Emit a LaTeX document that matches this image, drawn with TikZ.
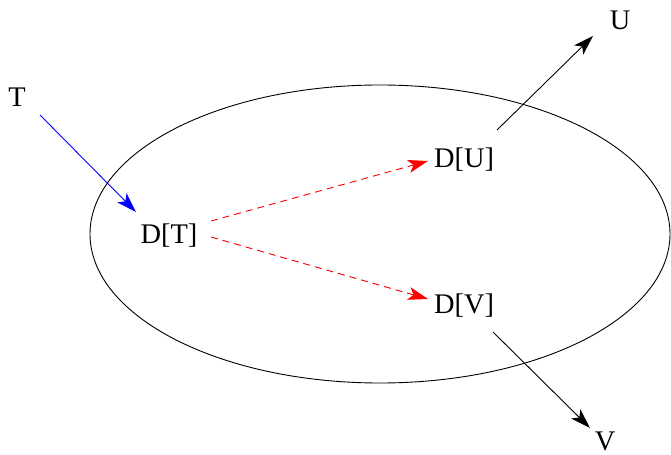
\documentclass[tikz,border=0pt]{standalone}
\usepackage{fontspec}
\setmainfont{Liberation Serif}
\usetikzlibrary{arrows.meta}
\begin{document}
\begin{tikzpicture}[x=1bp,y=-1bp,
  lbl/.style={font=\fontsize{28.5}{32}\selectfont, inner sep=0pt},
  arr/.style={line width=0.9bp, -{Stealth[length=20bp,width=13bp,inset=5bp]}},
  bluearr/.style={arr, blue},
  redarr/.style={arr, red, dash pattern=on 7bp off 5bp}]
\useasboundingbox (0,0) rectangle (671,455);
\draw[line width=0.9bp] (380,234) ellipse [x radius=290, y radius=149];
\node[lbl] (T) at (17,97) {T};
\node[lbl] (DT) at (169,236) {D[T]};
\node[lbl] (DU) at (464,160) {D[U]};
\node[lbl] (DV) at (464,306) {D[V]};
\node[lbl] (U) at (620,20) {U};
\node[lbl] (V) at (605,441) {V};
\coordinate (tA) at (40,115);
\coordinate (tB) at (136,212);
\coordinate (uA) at (211,221);
\coordinate (uB) at (428,161);
\coordinate (vA) at (211,237);
\coordinate (vB) at (428,299);
\coordinate (wA) at (497,130);
\coordinate (wB) at (593,36);
\coordinate (xA) at (493,332);
\coordinate (xB) at (590,428);
\draw[bluearr] (tA) -- (tB);
\draw[redarr] (uA) -- (uB);
\draw[redarr] (vA) -- (vB);
\draw[arr] (wA) -- (wB);
\draw[arr] (xA) -- (xB);
\end{tikzpicture}
\end{document}
